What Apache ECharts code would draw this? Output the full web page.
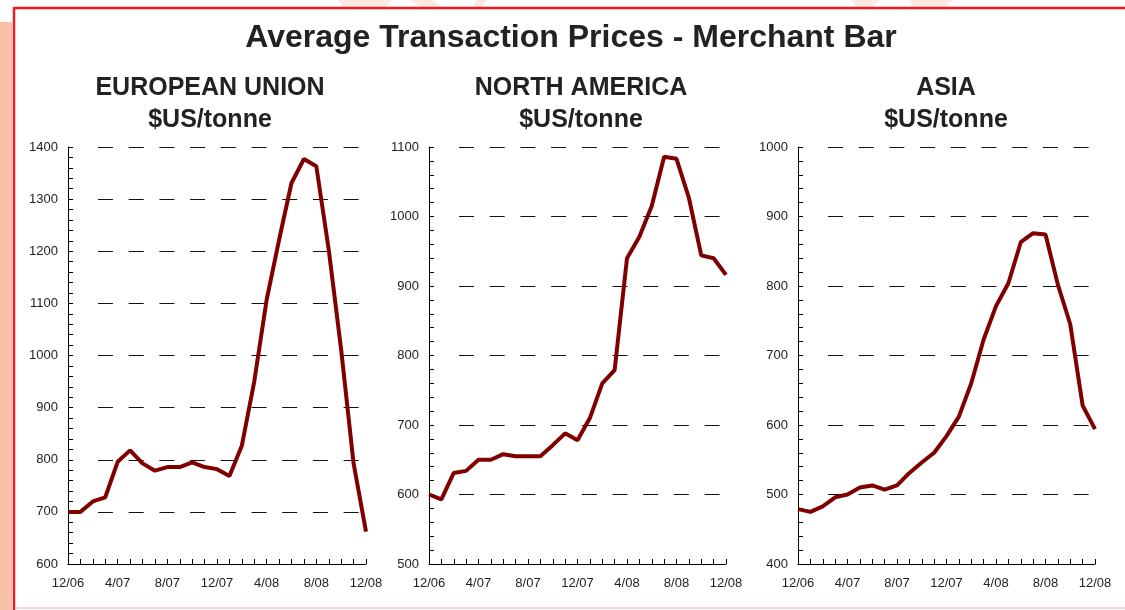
<!DOCTYPE html>
<html>
<head>
<meta charset="utf-8">
<title>Average Transaction Prices - Merchant Bar</title>
<script src="https://cdn.jsdelivr.net/npm/echarts/dist/echarts.min.js"></script>
<style>
    html, body { margin: 0; padding: 0; background: #fff; }
    #chart-container { width: 1125px; height: 610px; }
</style>
</head>
<body>
<div id="chart-container"></div>
<script>
// months from 12/06 to 12/08, one point per month
const months = ['12/06', '1/07', '2/07', '3/07', '4/07', '5/07', '6/07', '7/07', '8/07', '9/07', '10/07', '11/07',
    '12/07', '1/08', '2/08', '3/08', '4/08', '5/08', '6/08', '7/08', '8/08', '9/08', '10/08', '11/08', '12/08'];

// $US/tonne
const euPrices = [700, 700, 720, 728, 796, 818, 793, 779, 786, 786, 795, 786, 782, 769, 827, 950, 1107, 1222, 1331, 1377, 1363, 1203, 1011, 793, 662];
const naPrices = [600, 593, 631, 634, 650, 650, 658, 655, 655, 655, 671, 688, 678, 710, 760, 779, 940, 971, 1015, 1086, 1083, 1027, 944, 940, 916];
const asiaPrices = [479, 475, 483, 496, 500, 510, 513, 507, 513, 531, 546, 560, 584, 612, 660, 723, 771, 804, 863, 876, 874, 802, 745, 628, 594];

const panelTitles = ['EUROPEAN UNION\n$US/tonne', 'NORTH AMERICA\n$US/tonne', 'ASIA\n$US/tonne'];
const yMins = [600, 500, 400];
const yMaxs = [1400, 1100, 1000];

const dom = document.getElementById('chart-container');
const myChart = echarts.init(dom);

const FONT = '"Liberation Sans", Arial, sans-serif';
const LINE_COLOR = '#800000';

// gridline dashes start a bit away from the axis
const dash = [0, 30];
for (let i = 0; i < 12; i++) {
    dash.push(15, 15.7);
}

const grids = [
    { left: 68, width: 298, top: 147, height: 417 },
    { left: 429, width: 297, top: 147, height: 417 },
    { left: 798, width: 297, top: 147, height: 417 }
];
const titleCenters = [210, 581, 946];
const allPrices = [euPrices, naPrices, asiaPrices];

const option = {
    backgroundColor: '#fff',
    animation: false,
    graphic: [
        { type: 'rect', shape: { x: 0, y: 22, width: 12, height: 588 }, style: { fill: '#FBC0A8' } },
        { type: 'polygon', shape: { points: [[338, 0], [392, 0], [386, 7], [344, 7]] }, style: { fill: '#FEEAE2' } },
        { type: 'polygon', shape: { points: [[410, 0], [432, 0], [443, 7], [420, 7]] }, style: { fill: '#FEEAE2' } },
        { type: 'polygon', shape: { points: [[477, 0], [487, 0], [481, 7], [472, 7]] }, style: { fill: '#FEEAE2' } },
        { type: 'polygon', shape: { points: [[850, 0], [880, 0], [872, 7], [858, 7]] }, style: { fill: '#FEEAE2' } },
        { type: 'polygon', shape: { points: [[908, 0], [953, 0], [946, 7], [914, 7]] }, style: { fill: '#FEEAE2' } },
        { type: 'line', shape: { x1: 14, y1: 8, x2: 1125, y2: 8 }, style: { stroke: '#ED1C24', lineWidth: 2.5 } },
        { type: 'line', shape: { x1: 14, y1: 7, x2: 14, y2: 610 }, style: { stroke: '#ED1C24', lineWidth: 2.5 } },
        { type: 'line', shape: { x1: 15, y1: 608, x2: 1125, y2: 608 }, style: { stroke: '#F6C9C9', lineWidth: 1.5 } }
    ],
    title: [
        {
            text: 'Average Transaction Prices - Merchant Bar',
            left: 571,
            top: 22,
            padding: 0,
            textAlign: 'center',
            textStyle: { fontFamily: FONT, fontSize: 32, fontWeight: 'bold', color: '#222', lineHeight: 32 }
        }
    ].concat(panelTitles.map((t, i) => ({
        text: t,
        left: titleCenters[i],
        top: 72,
        padding: 0,
        textAlign: 'center',
        textStyle: { fontFamily: FONT, fontSize: 25, fontWeight: 'bold', color: '#222', lineHeight: 32 }
    }))),
    grid: grids,
    xAxis: grids.map((g, i) => ({
        type: 'category',
        gridIndex: i,
        data: months,
        boundaryGap: false,
        axisLine: { lineStyle: { color: '#000', width: 1 } },
        axisTick: { show: true, inside: true, length: 5, interval: 0, lineStyle: { color: '#000' } },
        axisLabel: { interval: 3, margin: 13, color: '#222', fontFamily: FONT, fontSize: 13 },
        splitLine: { show: false }
    })),
    yAxis: grids.map((g, i) => ({
        type: 'value',
        gridIndex: i,
        min: yMins[i],
        max: yMaxs[i],
        interval: 100,
        axisLine: { show: true, lineStyle: { color: '#000', width: 1 } },
        axisTick: { show: true, inside: true, length: 5, lineStyle: { color: '#000' } },
        minorTick: { show: true, splitNumber: 5, length: 5, lineStyle: { color: '#000' } },
        axisLabel: {
            margin: 10,
            color: '#222',
            fontFamily: FONT,
            fontSize: 13,
            formatter: function (value) {
                return String(value);
            }
        },
        splitLine: { show: true, lineStyle: { color: '#111', width: 1, type: dash } }
    })),
    series: allPrices.map((data, i) => ({
        type: 'line',
        xAxisIndex: i,
        yAxisIndex: i,
        data: data,
        symbol: 'none',
        lineStyle: { color: LINE_COLOR, width: 4 }
    }))
};

myChart.setOption(option);
window.addEventListener('resize', () => {
    myChart.resize();
});
</script>
</body>
</html>
